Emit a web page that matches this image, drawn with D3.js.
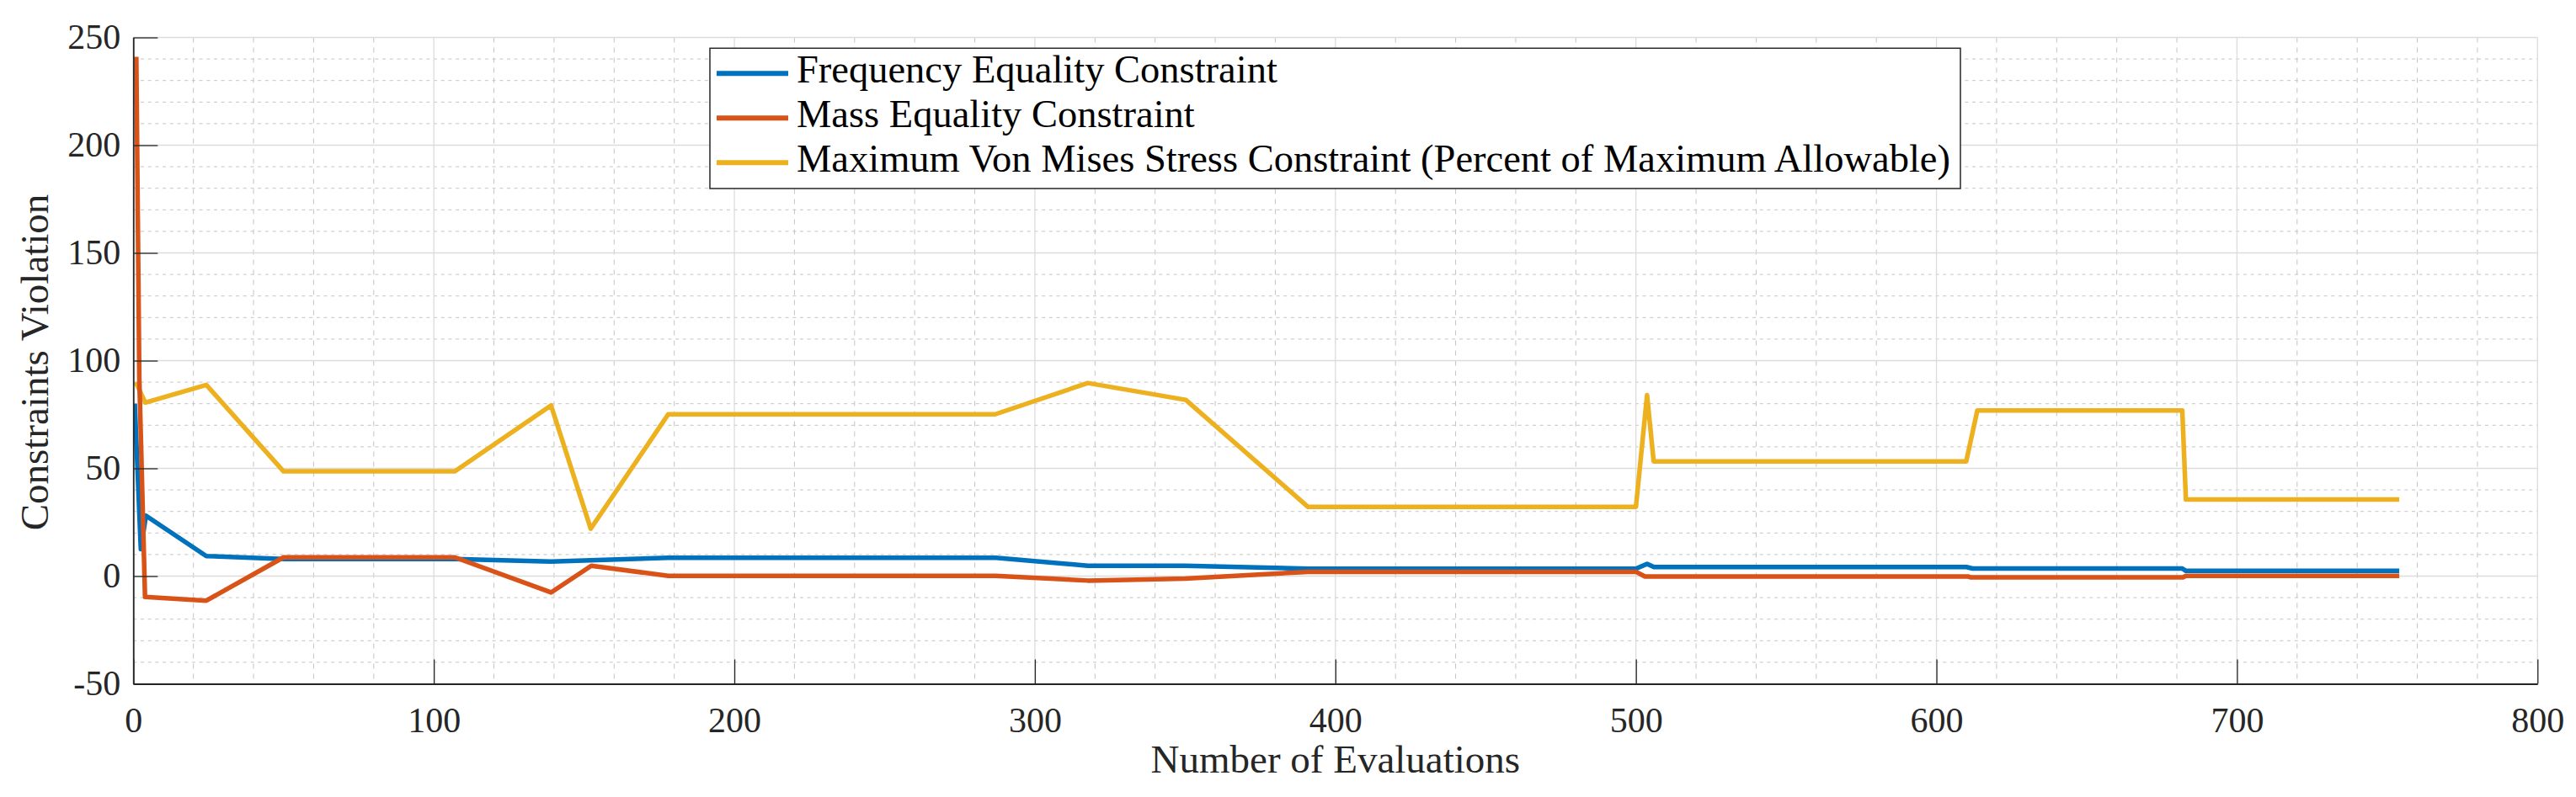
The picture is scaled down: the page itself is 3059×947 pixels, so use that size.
<!DOCTYPE html>
<html>
<head>
<meta charset="utf-8">
<script src="https://cdn.jsdelivr.net/npm/d3@7"></script>
<style>
  body { margin: 0; background: #fff; }
  text { font-family: "Liberation Serif", "DejaVu Serif", serif; }
</style>
</head>
<body>
<script>
// values
const freqX = [0.5, 2.5, 4.2, 24.3, 50, 107, 139, 178, 287, 317.6, 350, 391, 500, 503.7, 506, 610, 612, 681.8, 683, 754];
const freqY = [80, 12.5, 28, 9.3, 7.9, 7.9, 6.7, 8.5, 8.5, 4.8, 4.8, 3.4, 3.4, 5.7, 4.2, 4.2, 3.5, 3.5, 2.4, 2.4];

const massX = [1, 2, 3.9, 24.3, 50, 107, 139, 152.4, 178, 287, 317.6, 350, 391, 500, 503, 610.5, 611.5, 682, 683, 754];
const massY = [241, 92, -9.7, -11.4, 8.7, 8.7, -7.6, 4.8, 0.1, 0.1, -2.1, -1.2, 2.0, 2.0, -0.2, -0.2, -0.6, -0.6, 0.1, 0.1];

const stressX = [0.8, 4, 24.3, 50, 107, 139, 152.2, 178, 286.8, 317.6, 350.2, 390.9, 500, 503.7, 505.9, 609.9, 613.6, 681.8, 683, 754];
const stressY = [90, 80.5, 88.7, 48.6, 48.6, 79.2, 22, 75.1, 75.1, 89.6, 81.8, 32.1, 32.1, 84, 53.2, 53.2, 76.9, 76.9, 35.5, 35.5];

const xTicks = [0, 100, 200, 300, 400, 500, 600, 700, 800];
const yTicks = [-50, 0, 50, 100, 150, 200, 250];
const yTickLabels = ['-50', '0', '50', '100', '150', '200', '250'];

const seriesNames = [
    'Frequency Equality Constraint',
    'Mass Equality Constraint',
    'Maximum Von Mises Stress Constraint (Percent of Maximum Allowable)'
];
const seriesColors = ['#0072BD', '#D95319', '#EDB120'];

const width = 3059;
const height = 947;
const plotLeft = 158.3, plotRight = 3013.3, plotTop = 44.5, plotBottom = 812.5;
const axisColor = '#262626';

const svg = d3.select('body')
    .append('svg')
    .attr('width', width)
    .attr('height', height);

const x = d3.scaleLinear().domain([0, 800]).range([plotLeft, plotRight]);
const y = d3.scaleLinear().domain([-50, 250]).range([plotBottom, plotTop]);

// minor grid
const minorY = d3.range(-40, 250, 10).filter(v => v % 50 !== 0);
const minorX = d3.range(20, 800, 20).filter(v => v % 100 !== 0);

const grid = svg.append('g');

grid.selectAll('.minor-y')
    .data(minorY)
    .enter()
    .append('line')
    .attr('x1', plotLeft).attr('x2', plotRight)
    .attr('y1', d => y(d)).attr('y2', d => y(d))
    .style('stroke', '#c4c4c4')
    .style('stroke-width', 1)
    .style('stroke-dasharray', '4,4.7');

grid.selectAll('.minor-x')
    .data(minorX)
    .enter()
    .append('line')
    .attr('y1', plotTop).attr('y2', plotBottom)
    .attr('x1', d => x(d)).attr('x2', d => x(d))
    .style('stroke', '#c4c4c4')
    .style('stroke-width', 1)
    .style('stroke-dasharray', '6,6');

// major grid
grid.selectAll('.major-y')
    .data(yTicks)
    .enter()
    .append('line')
    .attr('x1', plotLeft).attr('x2', plotRight)
    .attr('y1', d => y(d)).attr('y2', d => y(d))
    .style('stroke', '#dcdcdc')
    .style('stroke-width', 1.3);

grid.selectAll('.major-x')
    .data(xTicks)
    .enter()
    .append('line')
    .attr('y1', plotTop).attr('y2', plotBottom)
    .attr('x1', d => x(d)).attr('x2', d => x(d))
    .style('stroke', '#dcdcdc')
    .style('stroke-width', 1.3);

// data lines
svg.append('defs')
    .append('clipPath')
    .attr('id', 'plot-clip')
    .append('rect')
    .attr('x', plotLeft).attr('y', plotTop)
    .attr('width', plotRight - plotLeft).attr('height', plotBottom - plotTop);

const line = d3.line()
    .x(d => x(d[0]))
    .y(d => y(d[1]));

const series = [
    { xs: stressX, ys: stressY, color: seriesColors[2] },
    { xs: freqX, ys: freqY, color: seriesColors[0] },
    { xs: massX, ys: massY, color: seriesColors[1] }
];

svg.append('g')
    .attr('clip-path', 'url(#plot-clip)')
    .selectAll('path')
    .data(series)
    .enter()
    .append('path')
    .attr('d', s => line(s.xs.map((v, i) => [v, s.ys[i]])))
    .style('fill', 'none')
    .style('stroke', s => s.color)
    .style('stroke-width', 5.5)
    .style('stroke-linejoin', 'round')
    .style('stroke-linecap', 'butt');

// axes
const xAxis = svg.append('g')
    .attr('transform', `translate(0, ${plotBottom})`)
    .call(d3.axisBottom(x).tickValues(xTicks).tickSizeInner(-29).tickSizeOuter(0).tickPadding(28));

const yAxis = svg.append('g')
    .attr('transform', `translate(${plotLeft}, 0)`)
    .call(d3.axisLeft(y).tickValues(yTicks).tickFormat((d, i) => yTickLabels[i]).tickSizeInner(-29).tickSizeOuter(0).tickPadding(15));

[xAxis, yAxis].forEach(a => {
    a.select('.domain').style('stroke', axisColor).style('stroke-width', 1.8);
    a.selectAll('.tick line').style('stroke', axisColor).style('stroke-width', 1.3);
    a.selectAll('.tick text')
        .style('font-family', '"Liberation Serif", "DejaVu Serif", serif')
        .style('font-size', '42px')
        .style('fill', axisColor);
});

// axis titles
svg.append('text')
    .attr('x', (plotLeft + plotRight) / 2)
    .attr('y', 918)
    .attr('text-anchor', 'middle')
    .style('font-size', '47px')
    .style('fill', axisColor)
    .text('Number of Evaluations');

svg.append('text')
    .attr('transform', `translate(57, ${(plotTop + plotBottom) / 2 + 2}) rotate(-90)`)
    .attr('text-anchor', 'middle')
    .style('font-size', '47px')
    .style('fill', axisColor)
    .text('Constraints Violation');

// legend
const legend = svg.append('g');

legend.append('rect')
    .attr('x', 843).attr('y', 57.3)
    .attr('width', 2328 - 843).attr('height', 224 - 57.3)
    .style('fill', '#fff')
    .style('stroke', axisColor)
    .style('stroke-width', 1.5);

const rows = legend.selectAll('.row')
    .data(seriesNames)
    .enter()
    .append('g')
    .attr('transform', (d, i) => `translate(0, ${87.3 + i * 53})`);

rows.append('line')
    .attr('x1', 851).attr('x2', 936)
    .attr('y1', 0).attr('y2', 0)
    .style('stroke', (d, i) => seriesColors[i])
    .style('stroke-width', 6);

rows.append('text')
    .attr('x', 946)
    .attr('y', 11)
    .style('font-size', '46.5px')
    .style('fill', '#000')
    .text(d => d);
</script>
</body>
</html>
